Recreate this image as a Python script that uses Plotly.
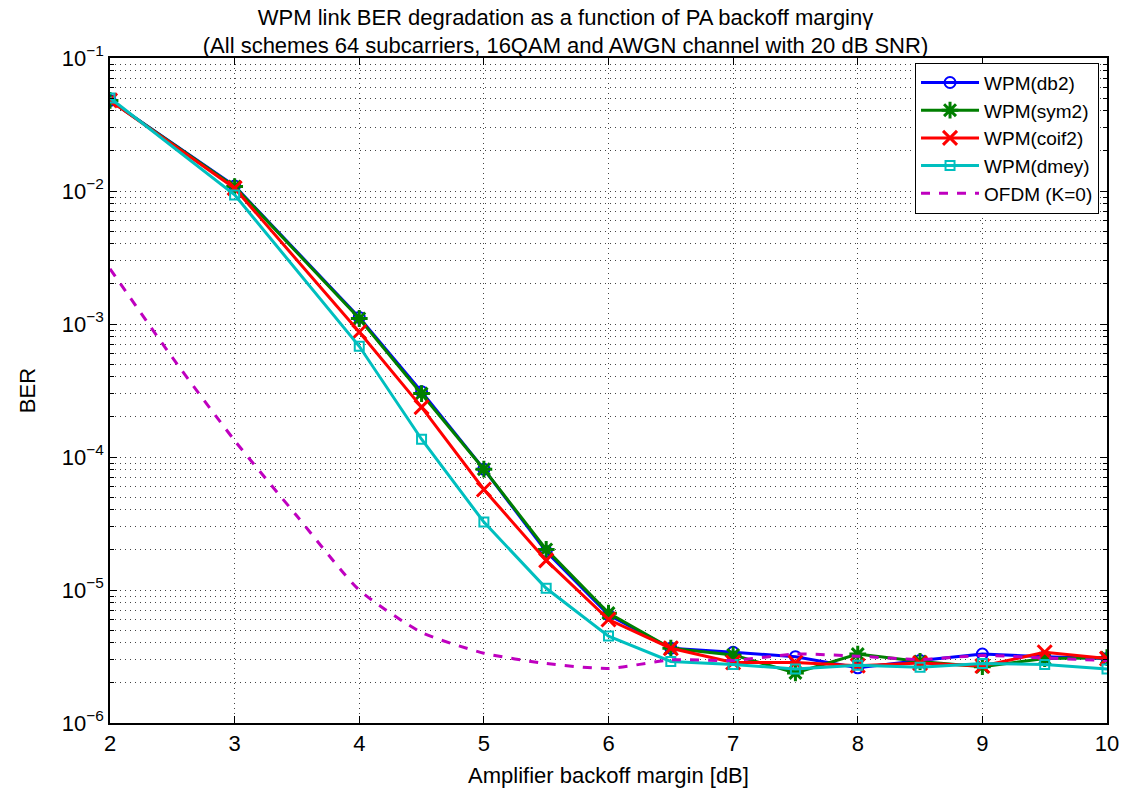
import plotly.graph_objects as go

x = [2, 2.5, 3, 3.5, 4, 4.5, 5, 5.5, 6, 6.5, 7, 7.5, 8, 8.5, 9, 9.5, 10]
x_w = [2, 3, 4, 4.5, 5, 5.5, 6, 6.5, 7, 7.5, 8, 8.5, 9, 9.5, 10]

db2 = [4.8e-2, 1.09e-2, 1.12e-3, 3.1e-4, 8.1e-5, 1.95e-5, 6.5e-6, 3.65e-6, 3.4e-6, 3.15e-6, 2.6e-6, 2.95e-6, 3.3e-6, 3.15e-6, 3.05e-6]
sym2 = [4.8e-2, 1.08e-2, 1.1e-3, 3.0e-4, 8.1e-5, 2.02e-5, 6.7e-6, 3.65e-6, 3.25e-6, 2.38e-6, 3.3e-6, 2.9e-6, 2.65e-6, 3.05e-6, 3.1e-6]
coif2 = [4.8e-2, 1.05e-2, 8.7e-4, 2.37e-4, 5.7e-5, 1.67e-5, 6.0e-6, 3.65e-6, 2.85e-6, 2.85e-6, 2.7e-6, 2.82e-6, 2.68e-6, 3.4e-6, 3.05e-6]
dmey = [5.0e-2, 9.35e-3, 6.8e-4, 1.36e-4, 3.24e-5, 1.03e-5, 4.5e-6, 2.9e-6, 2.75e-6, 2.55e-6, 2.72e-6, 2.62e-6, 2.8e-6, 2.75e-6, 2.55e-6]
ofdm = [2.6e-3, 5.6e-4, 1.33e-4, 3.6e-5, 1.0e-5, 4.8e-6, 3.35e-6, 2.8e-6, 2.57e-6, 2.98e-6, 2.95e-6, 3.3e-6, 3.18e-6, 3.0e-6, 3.22e-6, 3.08e-6, 2.95e-6]

ytick_vals = [1e-6, 1e-5, 1e-4, 1e-3, 1e-2, 1e-1]
ytick_text = ["10<sup>−6</sup>", "10<sup>−5</sup>", "10<sup>−4</sup>", "10<sup>−3</sup>", "10<sup>−2</sup>", "10<sup>−1</sup>"]
yminor_vals = [m * d for d in [1e-6, 1e-5, 1e-4, 1e-3, 1e-2] for m in range(2, 10)]
xtick_vals = [2, 3, 4, 5, 6, 7, 8, 9, 10]

FONT = "Liberation Sans, Arial, sans-serif"
GRID = "#444444"
GDASH = "1px,4px"

fig = go.Figure()
fig.add_trace(go.Scatter(x=x_w, y=db2, name="WPM(db2)", mode="lines+markers",
                         line=dict(color="#0000FF", width=3),
                         marker=dict(symbol="circle-open", size=11, color="#0000FF", line=dict(width=2))))
fig.add_trace(go.Scatter(x=x_w, y=sym2, name="WPM(sym2)", mode="lines+markers",
                         line=dict(color="#007F00", width=3),
                         marker=dict(symbol="asterisk-open", size=14, color="#007F00", line=dict(width=3, color="#007F00"))))
fig.add_trace(go.Scatter(x=x_w, y=coif2, name="WPM(coif2)", mode="lines+markers",
                         line=dict(color="#FF0000", width=3),
                         marker=dict(symbol="x-thin-open", size=14, color="#FF0000", line=dict(width=3, color="#FF0000"))))
fig.add_trace(go.Scatter(x=x_w, y=dmey, name="WPM(dmey)", mode="lines+markers",
                         line=dict(color="#00BFBF", width=3),
                         marker=dict(symbol="square-open", size=9, color="#00BFBF", line=dict(width=2))))
fig.add_trace(go.Scatter(x=x, y=ofdm, name="OFDM (K=0)", mode="lines",
                         line=dict(color="#BF00BF", width=3, dash="dash", shape="spline", smoothing=0.6)))

fig.update_layout(
    width=1131, height=796,
    paper_bgcolor="white", plot_bgcolor="white",
    margin=dict(l=110, r=16, t=58, b=69),
    font=dict(family=FONT, size=22, color="black"),
    title=dict(text="WPM link BER degradation as a function of PA backoff marginγ<br>(All schemes 64 subcarriers, 16QAM and AWGN channel with 20 dB SNR)",
               x=0.5, xanchor="center", y=0.969, yanchor="top",
               font=dict(family=FONT, size=22, color="black")),
    showlegend=True,
    legend=dict(x=0.992, xanchor="right", y=0.993, yanchor="top",
                bgcolor="white", bordercolor="black", borderwidth=1,
                font=dict(family=FONT, size=19), tracegroupgap=0,
                itemwidth=58),
)

fig.update_xaxes(
    range=[2, 10], tickvals=xtick_vals, ticks="inside", ticklen=7, tickcolor="black",
    showline=True, linecolor="black", linewidth=1.5, mirror="ticks",
    showgrid=True, gridcolor=GRID, griddash=GDASH, gridwidth=1,
    zeroline=False,
    title=dict(text="Amplifier backoff margin [dB]", font=dict(size=22), standoff=12),
    tickfont=dict(size=22),
)
fig.update_yaxes(
    type="log", range=[-6, -1], tickvals=ytick_vals, ticktext=ytick_text,
    ticks="inside", ticklen=7, tickcolor="black",
    showline=True, linecolor="black", linewidth=1.5, mirror="ticks",
    showgrid=True, gridcolor=GRID, griddash=GDASH, gridwidth=1,
    minor=dict(tickvals=yminor_vals, ticks="inside", ticklen=4, tickcolor="black",
               showgrid=True, gridcolor=GRID, griddash=GDASH, gridwidth=1),
    zeroline=False,
    title=dict(text="BER", font=dict(size=22), standoff=20),
    tickfont=dict(size=22),
)

fig.write_html("out.html")
